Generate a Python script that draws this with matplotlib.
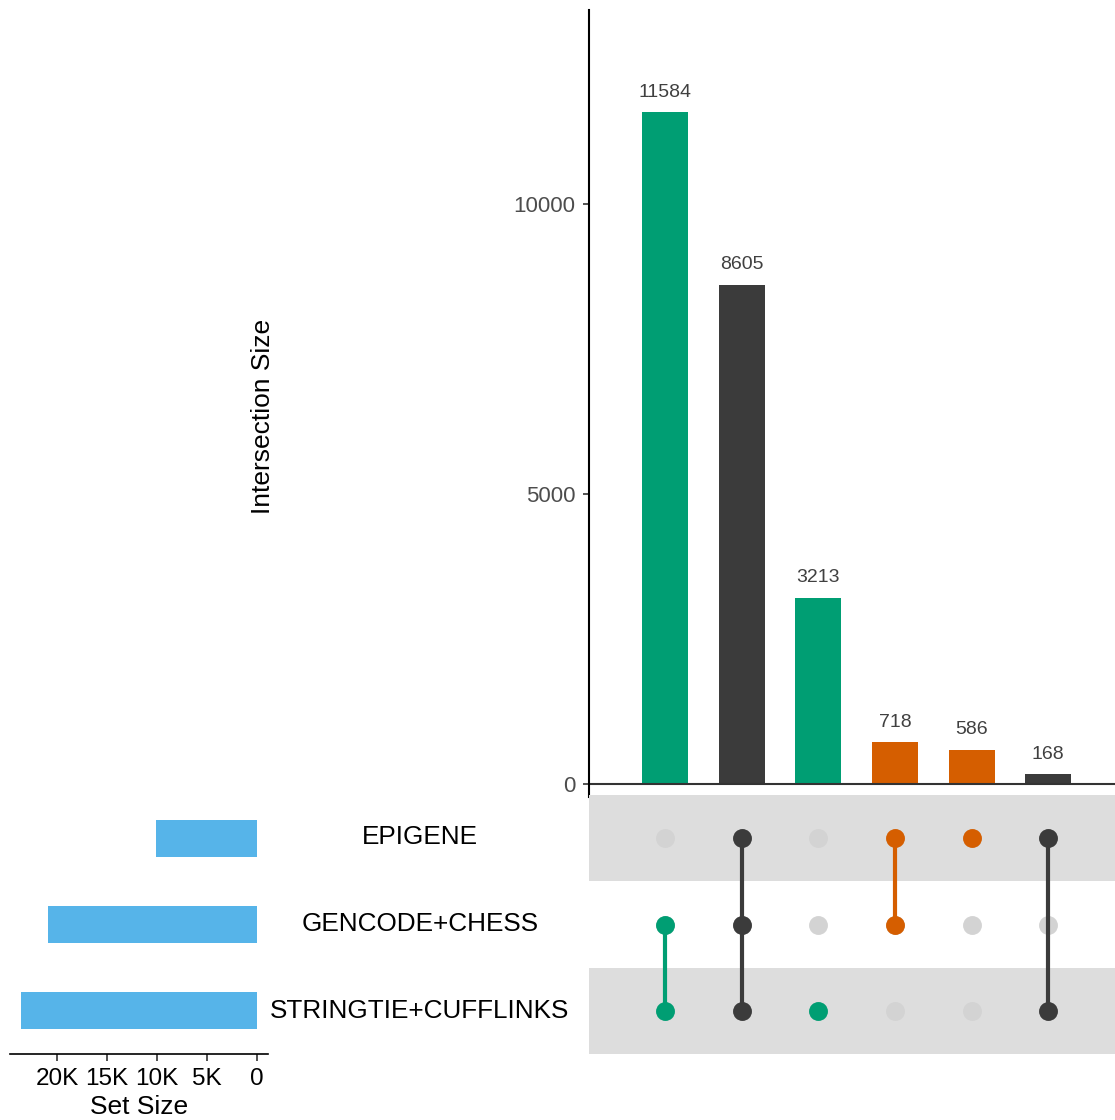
import matplotlib.pyplot as plt
import numpy as np

plt.rcParams['font.family'] = ['Liberation Sans', 'DejaVu Sans']

# data
set_names = ["EPIGENE", "GENCODE+CHESS", "STRINGTIE+CUFFLINKS"]
set_sizes = [10077, 20907, 23570]
inter_sizes = [11584, 8605, 3213, 718, 586, 168]
# membership: row index into set_names for each intersection
inter_members = [[1, 2], [0, 1, 2], [2], [0, 1], [0], [0, 2]]
inter_colors = ["#009E73", "#3B3B3B", "#009E73", "#D55E00", "#D55E00", "#3B3B3B"]
size_ticks = [0, 5000, 10000, 15000, 20000]
size_tick_labels = ["0", "5K", "10K", "15K", "20K"]
inter_ticks = [0, 5000, 10000]

W, H = 1115, 1120
fig = plt.figure(figsize=(W / 100, H / 100), dpi=100)

def box(x0, y0, x1, y1):
    return [x0 / W, 1 - y1 / H, (x1 - x0) / W, (y1 - y0) / H]

n = len(inter_sizes)
xs = np.arange(n)

# intersection bars
ax = fig.add_axes(box(589, 10, 1115, 797))
ax.bar(xs, inter_sizes, width=0.6, color=inter_colors)
for x, v in zip(xs, inter_sizes):
    ax.text(x, v + 200, str(v), ha="center", va="bottom", fontsize=14, color="#404040")
ax.axhline(0, color="#333333", lw=1.5)
ax.set_xlim(-0.99, 5.87)
ax.set_ylim(-224, 13345)
ax.set_xticks([])
ax.set_yticks(inter_ticks)
ax.set_yticklabels([str(t) for t in inter_ticks], fontsize=16, color="#4D4D4D")
ax.tick_params(axis="y", length=4, width=1.2, color="#333333", pad=6)
for s in ["top", "right", "bottom"]:
    ax.spines[s].set_visible(False)
ax.spines["left"].set_linewidth(1.5)
fig.text(263 / W, 1 - 416 / H, "Intersection Size", rotation=90,
         ha="center", va="center", fontsize=19)

# matrix
mx = fig.add_axes(box(589, 795, 1115, 1054))
mx.set_xlim(-0.99, 5.87)
mx.set_ylim(2.5, -0.5)
for r in range(len(set_names)):
    if r % 2 == 0:
        mx.axhspan(r - 0.5, r + 0.5, color="#DDDDDD", lw=0, zorder=0)
for x in xs:
    mx.scatter([x] * len(set_names), range(len(set_names)), s=185,
               color="#D3D3D3", lw=0, zorder=2)
for x, members, c in zip(xs, inter_members, inter_colors):
    if len(members) > 1:
        mx.plot([x, x], [min(members), max(members)], color=c, lw=3, zorder=3)
    mx.scatter([x] * len(members), members, s=185, color=c, lw=0, zorder=4)
mx.axis("off")

# set labels
for r, name in enumerate(set_names):
    fig.text(420 / W, 1 - (837 + 87 * r) / H, name, ha="center", va="center",
             fontsize=18.8)

# set size bars
sx = fig.add_axes(box(10, 795, 268, 1054))
sx.barh(range(len(set_names)), set_sizes, height=0.43, color="#56B4E9")
sx.set_ylim(2.5, -0.5)
sx.set_xlim(24700, -1100)
sx.set_yticks([])
sx.set_xticks(size_ticks)
sx.set_xticklabels(size_tick_labels, fontsize=17.5)
sx.tick_params(axis="x", length=5, width=1.2, color="#333333", pad=5)
for s in ["top", "right", "left"]:
    sx.spines[s].set_visible(False)
sx.spines["bottom"].set_linewidth(1.2)
sx.set_xlabel("Set Size", fontsize=19, labelpad=4)

fig.savefig("out.png", dpi=100)
